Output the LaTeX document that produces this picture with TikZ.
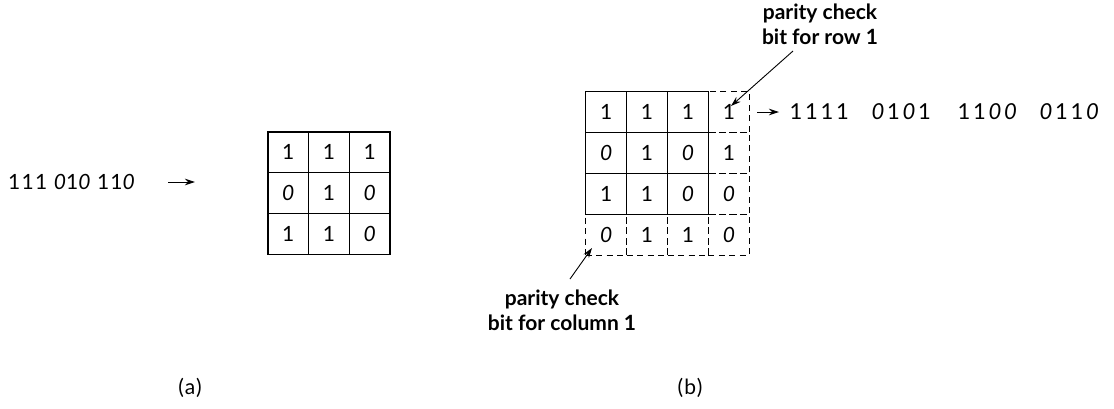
\documentclass[tikz,border=0pt]{standalone}
\usepackage{fontspec}
\setmainfont{Lato}
\newfontfamily\digfont[LetterSpace=6]{Lato}
\usetikzlibrary{arrows.meta}
\newcommand{\zr}{{\itshape 0}}
\newcommand{\bx}[1]{\makebox[15.5pt]{#1}}
\begin{document}
\begin{tikzpicture}[x=1pt,y=-1pt,
  cell/.style={draw,line width=1.3pt,minimum size=40.7pt,inner sep=0pt,font=\fontsize{21}{24}\selectfont},
  dcell/.style={draw,dash pattern=on 6pt off 4.5pt,line width=1.3pt,minimum size=40.9pt,inner sep=0pt,font=\fontsize{21}{24}\selectfont},
  txt/.style={font=\digfont\fontsize{21}{24}\selectfont,inner sep=0pt},
  lab/.style={font=\bfseries\fontsize{21}{25}\selectfont,align=center,inner sep=0pt},
  arr/.style={line width=0.9pt,-{Stealth[length=10pt,width=6.5pt]}}]
\useasboundingbox (0,0) rectangle (1114,408);
% grid (a)
\foreach \a/\b/\c [count=\i] in {1/1/1,\zr/1/\zr,1/1/\zr}{
  \node[cell] (a\i1) at (288.3,{111.7+40.7*\i}) {\a};
  \node[cell] (a\i2) at (329.0,{111.7+40.7*\i}) {\b};
  \node[cell] (a\i3) at (369.7,{111.7+40.7*\i}) {\c};
}
% grid (b) dashed parts
\foreach \i/\v in {1/1,2/1,3/\zr}{
  \node[dcell] (b\i4) at (728.9,{71.25+40.9*\i}) {\v};
}
\foreach \j/\v in {1/\zr,2/1,3/1,4/\zr}{
  \node[dcell] (b4\j) at ({565.25+40.9*\j},234.85) {\v};
}
% grid (b) solid part
\foreach \a/\b/\c [count=\i] in {1/1/1,\zr/1/\zr,1/1/\zr}{
  \node[cell,minimum size=40.9pt] (b\i1) at (606.15,{71.25+40.9*\i}) {\a};
  \node[cell,minimum size=40.9pt] (b\i2) at (647.05,{71.25+40.9*\i}) {\b};
  \node[cell,minimum size=40.9pt] (b\i3) at (687.95,{71.25+40.9*\i}) {\c};
}
% input string
\node[txt,anchor=west] (instr) at (8,182) {111 \zr1\zr\ 11\zr};
\coordinate (inA) at (168,182);
\coordinate (inB) at (195,182);
\draw[arr] (inA) -- (inB);
% output string
\coordinate (outA) at (757,112);
\coordinate (outB) at (779,112);
\draw[arr] (outA) -- (outB);
\node[txt,font=\fontsize{22}{24}\selectfont,anchor=west] (outstr) at (788,112) {\bx1\bx1\bx1\bx1\hspace{20pt}\bx\zr\bx1\bx\zr\bx1\hspace{24pt}\bx1\bx1\bx\zr\bx\zr\hspace{20pt}\bx\zr\bx1\bx1\bx\zr};
% labels
\node[lab] (rowlab) at (820,24) {parity check\\bit for row 1};
\coordinate (rowtail) at (793,51);
\coordinate (rowtip) at (731,106);
\draw[arr] (rowtail) -- (rowtip);
\node[lab] (collab) at (562,310) {parity check\\bit for column 1};
\coordinate (coltail) at (570,279);
\coordinate (coltip) at (592,248);
\draw[arr] (coltail) -- (coltip);
% captions
\node[txt] (capa) at (190,388) {(a)};
\node[txt] (capb) at (690,388) {(b)};
\end{tikzpicture}
\end{document}
